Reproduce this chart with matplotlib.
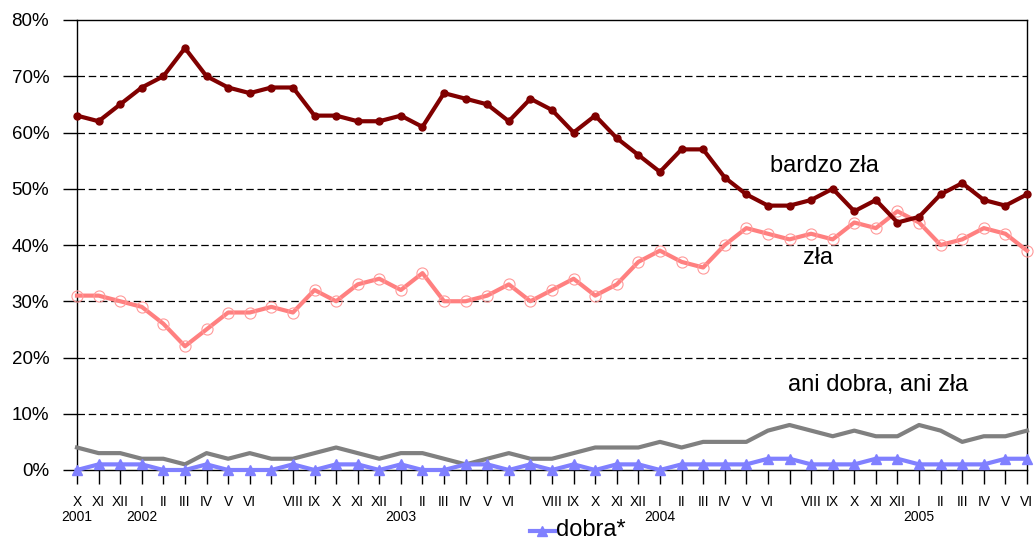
import matplotlib
matplotlib.use("Agg")
import matplotlib.pyplot as plt
from matplotlib.lines import Line2D
import matplotlib.transforms as mtransforms

plt.rcParams['font.family'] = ['Liberation Sans', 'DejaVu Sans']

# survey months, Oct 2001 - Jun 2005 (July has no label)
months = ['X', 'XI', 'XII', 'I', 'II', 'III', 'IV', 'V', 'VI', '', 'VIII', 'IX',
          'X', 'XI', 'XII', 'I', 'II', 'III', 'IV', 'V', 'VI', '', 'VIII', 'IX',
          'X', 'XI', 'XII', 'I', 'II', 'III', 'IV', 'V', 'VI', '', 'VIII', 'IX',
          'X', 'XI', 'XII', 'I', 'II', 'III', 'IV', 'V', 'VI']
years = {0: '2001', 3: '2002', 15: '2003', 27: '2004', 39: '2005'}

bardzo_zla = [63, 62, 65, 68, 70, 75, 70, 68, 67, 68, 68, 63, 63, 62, 62, 63, 61, 67,
              66, 65, 62, 66, 64, 60, 63, 59, 56, 53, 57, 57, 52, 49, 47, 47, 48, 50,
              46, 48, 44, 45, 49, 51, 48, 47, 49]
zla = [31, 31, 30, 29, 26, 22, 25, 28, 28, 29, 28, 32, 30, 33, 34, 32, 35, 30,
       30, 31, 33, 30, 32, 34, 31, 33, 37, 39, 37, 36, 40, 43, 42, 41, 42, 41,
       44, 43, 46, 44, 40, 41, 43, 42, 39]
ani_dobra_ani_zla = [4, 3, 3, 2, 2, 1, 3, 2, 3, 2, 2, 3, 4, 3, 2, 3, 3, 2,
                     1, 2, 3, 2, 2, 3, 4, 4, 4, 5, 4, 5, 5, 5, 7, 8, 7, 6,
                     7, 6, 6, 8, 7, 5, 6, 6, 7]
dobra = [0, 1, 1, 1, 0, 0, 1, 0, 0, 0, 1, 0, 1, 1, 0, 1,
         0, 0, 1, 1, 0, 1, 0, 1, 0, 1, 1, 0, 1,
         1, 1, 1, 2, 2, 1, 1, 1, 2, 2, 1, 1, 1, 1, 2, 2]


def plot_chart():
    fig = plt.figure(figsize=(10.34, 5.41), dpi=100)
    ax = fig.add_axes([77 / 1034, 1 - 470 / 541, 950 / 1034, 450 / 541])
    x = list(range(len(months)))

    for g in range(10, 80, 10):
        ax.axhline(g, color='black', lw=0.9, ls=(0, (6, 3)), zorder=1)

    ax.plot(x, ani_dobra_ani_zla, color='#808080', lw=3, zorder=3, clip_on=False)
    ax.plot(x, dobra, color='#8080FF', lw=3, marker='^', markersize=7,
            zorder=4, clip_on=False)
    ax.plot(x, zla, color='#FF8080', lw=3, marker='o', markersize=8,
            markerfacecolor='none', markeredgecolor='#FF9999', markeredgewidth=0.8,
            zorder=5, clip_on=False)
    ax.plot(x, bardzo_zla, color='#800000', lw=3, marker='o', markersize=5,
            zorder=6, clip_on=False)

    ax.set_xlim(0, 44)
    ax.set_ylim(0, 80)
    ax.set_yticks(range(0, 90, 10))
    ax.set_yticklabels([f'{v}%' for v in range(0, 90, 10)], fontsize=13.5)
    ax.set_xticks(x)
    ax.set_xticklabels(months, fontsize=10)
    ax.tick_params(axis='y', direction='out', length=10, width=1, pad=10)
    ax.tick_params(axis='x', direction='out', length=10, width=1, pad=8)
    for s in ax.spines.values():
        s.set_linewidth(1)

    trans = mtransforms.blended_transform_factory(ax.transData, fig.transFigure)
    for i, yr in years.items():
        ax.text(i, 1 - 517 / 541, yr, transform=trans, ha='center', va='center',
                fontsize=10)

    ax.text(34.6, 54, 'bardzo zła', ha='center', va='center', fontsize=17)
    ax.text(34.3, 37.6, 'zła', ha='center', va='center', fontsize=17)
    ax.text(37.1, 15.1, 'ani dobra, ani zła', ha='center', va='center', fontsize=17)

    # legend entry sits at the bottom edge, like in the original
    ly = 1 - 531 / 541
    fig.add_artist(Line2D([530 / 1034, 555 / 1034], [ly, ly], color='#8080FF', lw=3))
    fig.add_artist(Line2D([542 / 1034], [ly], color='#8080FF', marker='^', markersize=7))
    fig.text(556 / 1034, 1 - 536 / 541, 'dobra*', ha='left', va='baseline', fontsize=17)

    fig.savefig('out.png', dpi=100)


if __name__ == "__main__":
    plot_chart()
